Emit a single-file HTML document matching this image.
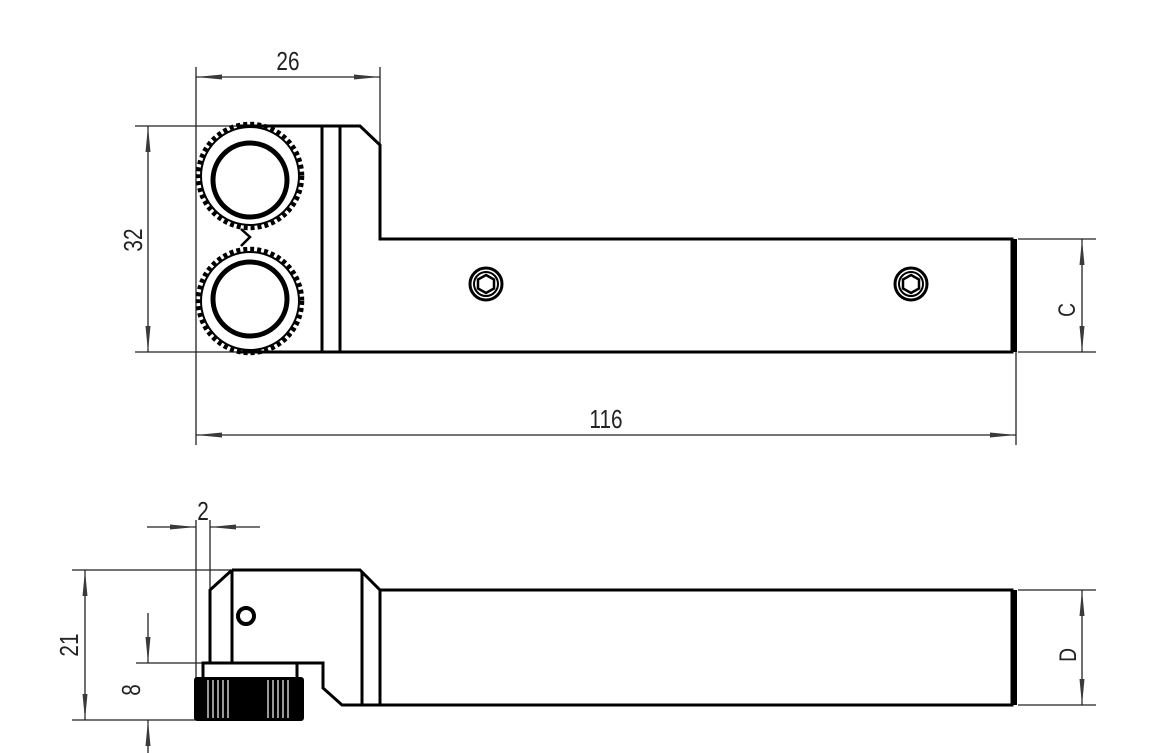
<!DOCTYPE html>
<html><head><meta charset="utf-8"><style>
html,body{margin:0;padding:0;background:#fff;}
svg{display:block;}
text{font-family:"Liberation Sans",sans-serif;fill:#222;}
</style></head><body>
<svg width="1171" height="753" viewBox="0 0 1171 753" xmlns="http://www.w3.org/2000/svg">
<defs>
<marker id="a" viewBox="0 0 26 8" refX="26" refY="4" markerWidth="26" markerHeight="8" markerUnits="userSpaceOnUse" orient="auto">
<path d="M0,1.5 L26,4 L0,6.5 Z" fill="#3a3a3a"/></marker>
<marker id="b" viewBox="0 0 26 8" refX="0" refY="4" markerWidth="26" markerHeight="8" markerUnits="userSpaceOnUse" orient="auto">
<path d="M26,1.5 L0,4 L26,6.5 Z" fill="#3a3a3a"/></marker>
</defs>
<g stroke="#222" stroke-width="1.3" fill="none">
<line x1="196" y1="67" x2="196" y2="445"/>
<line x1="380" y1="67" x2="380" y2="145"/>
<line x1="196" y1="77" x2="380" y2="77" marker-start="url(#b)" marker-end="url(#a)"/>
<line x1="135" y1="126" x2="240" y2="126"/>
<line x1="135" y1="352" x2="240" y2="352"/>
<line x1="148" y1="126" x2="148" y2="352" marker-start="url(#b)" marker-end="url(#a)"/>
<line x1="1016" y1="352" x2="1016" y2="445"/>
<line x1="196" y1="435" x2="1016" y2="435" marker-start="url(#b)" marker-end="url(#a)"/>
<line x1="1018" y1="239" x2="1096" y2="239"/>
<line x1="1018" y1="352" x2="1096" y2="352"/>
<line x1="1082" y1="239" x2="1082" y2="352" marker-start="url(#b)" marker-end="url(#a)"/>
<line x1="196" y1="520" x2="196" y2="680"/>
<line x1="210" y1="520" x2="210" y2="600"/>
<line x1="147" y1="527" x2="196" y2="527" marker-end="url(#a)"/>
<line x1="260" y1="527" x2="210" y2="527" marker-end="url(#a)"/>
<line x1="72" y1="570" x2="230" y2="570"/>
<line x1="72" y1="720" x2="195" y2="720"/>
<line x1="85" y1="570" x2="85" y2="720" marker-start="url(#b)" marker-end="url(#a)"/>
<line x1="136" y1="663" x2="203" y2="663"/>
<line x1="148" y1="613" x2="148" y2="663" marker-end="url(#a)"/>
<line x1="148" y1="753" x2="148" y2="720" marker-end="url(#a)"/>
<line x1="1018" y1="590" x2="1096" y2="590"/>
<line x1="1018" y1="705" x2="1096" y2="705"/>
<line x1="1082" y1="590" x2="1082" y2="705" marker-start="url(#b)" marker-end="url(#a)"/>
</g>
<g stroke="#000" stroke-width="3" fill="none" stroke-linejoin="miter">
<path d="M240,126 L360,126 L380,145 L380,239 L1012,239 L1012,352 L240,352"/>
<line x1="322" y1="126" x2="322" y2="352"/>
<line x1="340" y1="126" x2="340" y2="352"/>
<circle cx="250" cy="176" r="52" stroke-dasharray="4 3" stroke-width="4.5"/>
<circle cx="250" cy="176" r="49" stroke-width="2"/>
<circle cx="250" cy="180" r="37" stroke-width="5"/>
<circle cx="250" cy="301" r="52" stroke-dasharray="4 3" stroke-width="4.5"/>
<circle cx="250" cy="301" r="49" stroke-width="2"/>
<circle cx="250" cy="299" r="37" stroke-width="5"/>
<path d="M241,229 L250,237 L241,246" stroke-width="2.5"/>
<circle cx="486" cy="284" r="16" stroke-width="3"/>
<circle cx="486" cy="284" r="12" stroke-width="2"/>
<polygon points="486,275 494,279.5 494,288.5 486,293 478,288.5 478,279.5" stroke-width="2.5"/>
<circle cx="911" cy="284" r="16" stroke-width="3"/>
<circle cx="911" cy="284" r="12" stroke-width="2"/>
<polygon points="911,275 919,279.5 919,288.5 911,293 903,288.5 903,279.5" stroke-width="2.5"/>
<path d="M232,570 L360,570 L380,590 L1012,590 L1012,705 L342,705 L323,688 L323,663 L203,663 L203,677"/>
<path d="M232,570 L210,590 L210,663"/>
<line x1="232" y1="570" x2="232" y2="663"/>
<line x1="362" y1="572" x2="362" y2="705"/>
<line x1="380" y1="590" x2="380" y2="705"/>
<line x1="297" y1="663" x2="297" y2="677"/>
<circle cx="246" cy="616" r="8" stroke-width="4"/>
</g>
<rect x="1011" y="239" width="6" height="113" fill="#000"/>
<rect x="1011" y="590" width="6" height="115" fill="#000"/>
<rect x="194" y="677" width="110" height="44" rx="3" fill="#000"/>
<g stroke="#fff" stroke-width="1.2">
<line x1="208" y1="680" x2="208" y2="718"/><line x1="213" y1="680" x2="213" y2="718"/>
<line x1="218" y1="680" x2="218" y2="718"/><line x1="223" y1="680" x2="223" y2="718"/>
<line x1="228" y1="680" x2="228" y2="718"/>
<line x1="268" y1="680" x2="268" y2="718"/><line x1="273" y1="680" x2="273" y2="718"/>
<line x1="278" y1="680" x2="278" y2="718"/><line x1="283" y1="680" x2="283" y2="718"/>
<line x1="288" y1="680" x2="288" y2="718"/>
</g>
<text transform="translate(288,70) scale(0.8,1)" font-size="26" text-anchor="middle">26</text>
<text transform="translate(606,428) scale(0.8,1)" font-size="26" text-anchor="middle">116</text>
<text transform="translate(142,240) rotate(-90) scale(0.8,1)" font-size="26" text-anchor="middle">32</text>
<text transform="translate(1075,310) rotate(-90) scale(0.8,1)" font-size="24" text-anchor="middle">C</text>
<text transform="translate(203,520) scale(0.8,1)" font-size="26" text-anchor="middle">2</text>
<text transform="translate(78,645) rotate(-90) scale(0.8,1)" font-size="26" text-anchor="middle">21</text>
<text transform="translate(140,690) rotate(-90) scale(0.8,1)" font-size="26" text-anchor="middle">8</text>
<text transform="translate(1076,655) rotate(-90) scale(0.8,1)" font-size="24" text-anchor="middle">D</text>
</svg>
</body></html>
